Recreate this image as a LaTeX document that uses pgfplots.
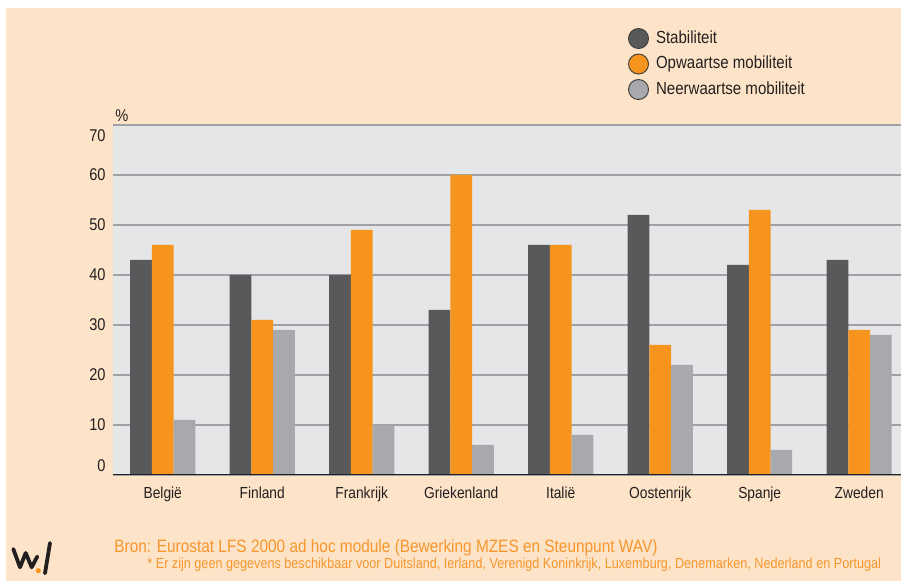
\documentclass[border=0pt]{standalone}
\usepackage{fontspec}
\setmainfont{Liberation Sans}[FakeStretch=0.86]
\usepackage{pgfplots}
\pgfplotsset{compat=1.18}
\definecolor{peach}{RGB}{253,228,200}
\definecolor{plotbg}{RGB}{229,230,232}
\definecolor{gridgray}{RGB}{160,161,164}
\definecolor{cdark}{RGB}{88,89,91}
\definecolor{corange}{RGB}{247,148,30}
\definecolor{cgrey}{RGB}{167,169,172}
\definecolor{tdark}{RGB}{35,31,32}
\definecolor{torange}{RGB}{246,150,45}
\begin{document}
\begin{tikzpicture}[x=0.5pt,y=0.5pt]
\fill[white] (-113,-106) rectangle (788,475);
\fill[peach] (-107,-106) rectangle (788,467);
\begin{axis}[
  at={(0,0)}, anchor=south west,
  scale only axis, width=394pt, height=175pt,
  xmin=-0.5, xmax=7.42, ymin=0, ymax=70,
  ybar=0pt, bar width=0.218,
  axis background/.style={fill=plotbg},
  axis line style={draw=none},
  major tick length=0pt,
  ymajorgrids, grid style={gridgray, line width=0.9pt},
  ytick={0,10,...,70},
  /pgf/number format/assume math mode=true,
  yticklabel={\smash{\raisebox{\ifdim\tick pt<1pt 1.5pt\else\ifdim\tick pt>69pt -8.5pt\else -3pt\fi\fi}{\pgfmathprintnumber{\tick}}}},
  yticklabel style={anchor=east, inner sep=0pt, xshift=-3.5pt, font=\fontsize{8.5}{10}\selectfont, text=tdark},
  xtick={0,...,7},
  xticklabels={België,Finland,Frankrijk,Griekenland,Italië,Oostenrijk,Spanje,Zweden},
  xticklabel style={anchor=north, inner sep=0pt, yshift=-6pt, font=\fontsize{8}{10}\selectfont, text=tdark},
  ylabel={\%},
  ylabel style={at={(axis description cs:0,1)}, rotate=-90, anchor=south west, inner sep=0pt, xshift=1pt, yshift=1.5pt, font=\fontsize{8.5}{10}\selectfont, text=tdark},
  legend cell align=left,
  legend image code/.code={\draw[#1, draw=tdark!85, line width=0.5pt] (5pt,0pt) circle (5pt);},
  legend style={at={(axis description cs:0.6536,1.277)}, anchor=north west, draw=none, fill=none,
    inner sep=0pt, outer sep=0pt, row sep=2.25pt, column sep=3.5pt,
    nodes={inner sep=0pt, text=tdark}, font=\fontsize{8.75}{10}\selectfont},
]
\addplot[fill=cdark, draw=none] coordinates {(0,43) (1,40) (2,40) (3,33) (4,46) (5,52) (6,42) (7,43)};
\addplot[fill=corange, draw=none] coordinates {(0,46) (1,31) (2,49) (3,60) (4,46) (5,26) (6,53) (7,29)};
\addplot[fill=cgrey, draw=none] coordinates {(0,11) (1,29) (2,10) (3,6) (4,8) (5,22) (6,5) (7,28)};
\legend{Stabiliteit, Opwaartse mobiliteit, Neerwaartse mobiliteit}
\draw[tdark, line width=0.9pt] (rel axis cs:0,0) -- (rel axis cs:1,0);
\end{axis}
\node[anchor=base west, inner sep=0pt, text=torange, font=\fontsize{8.95}{10}\selectfont] at (1,-78) {Bron: Eurostat LFS 2000 ad hoc module (Bewerking MZES en Steunpunt WAV)};
\node[anchor=base west, inner sep=0pt, text=torange, font=\fontsize{7.35}{8}\selectfont] at (34,-94) {* Er zijn geen gegevens beschikbaar voor Duitsland, Ierland, Verenigd Koninkrijk, Luxemburg, Denemarken, Nederland en Portugal};
\draw[tdark, line width=1.9pt, line join=round, line cap=round] (-99.7,-74) -- (-93,-92.3) -- (-87.3,-78) -- (-81.3,-92.3) -- (-75.7,-81.5);
\draw[tdark, line width=1.9pt, line cap=round] (-68,-98.3) -- (-63,-68);
\fill[corange] (-74.7,-95.7) circle (2.6);
\pgfresetboundingbox
\path[use as bounding box] (-113,-106) rectangle (788,475);
\end{tikzpicture}
\end{document}
